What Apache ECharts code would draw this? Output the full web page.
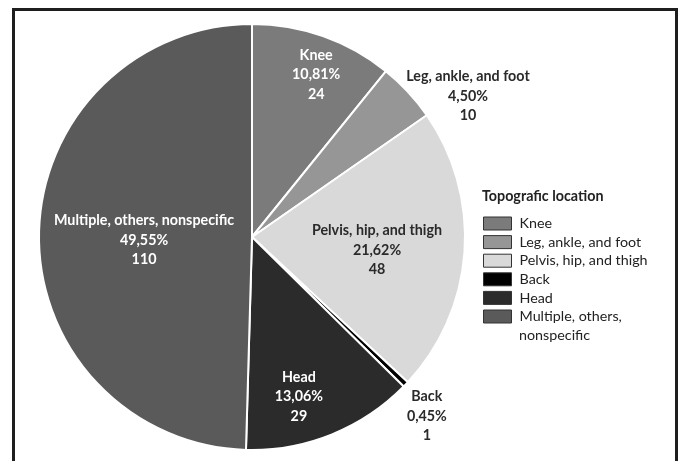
<!DOCTYPE html>
<html>
<head>
<meta charset="utf-8">
<script src="https://cdn.jsdelivr.net/npm/echarts@6/dist/echarts.min.js"></script>
<style>
  html, body { margin: 0; padding: 0; background: #fff; }
  #chart { width: 678px; height: 461px; }
</style>
</head>
<body>
<div id="chart"></div>
<script>
// Injury counts by topographic location
const categories = ['Knee', 'Leg, ankle, and foot', 'Pelvis, hip, and thigh', 'Back', 'Head', 'Multiple, others, nonspecific'];
const counts = [24, 10, 48, 1, 29, 110];
const legendTitle = 'Topografic location';
// the last legend entry wraps onto a second line
const legendWrap = { 'Multiple, others, nonspecific': ['Multiple, others,', 'nonspecific'] };

// Styling
const FONT = 'Lato, "Open Sans", sans-serif';
const FS = 14.3;
const sliceColors = ['#7b7b7b', '#969696', '#d9d9d9', '#000000', '#2b2b2b', '#5a5a5a'];
const labelColors = ['#ffffff', '#2a2a2a', '#2a2a2a', '#2a2a2a', '#ffffff', '#ffffff'];
// label placement: fraction of the radius and small angular nudge (degrees)
const labelRadiusFrac = [0.82, 1.21, 0.59, 1.175, 0.78, 0.507];
const labelAngleNudge = [2.1, 9.9, 1.9, 1.9, 5.5, -2.4];

const CX = 252, CY = 237, R = 213;
const LEG_LEFT = 483, LEG_TOP = 215.5, LEG_ROW = 18.6;

const total = counts.reduce((a, b) => a + b, 0);
const startFrac = [];
counts.reduce((acc, v) => { startFrac.push(acc); return acc + v; }, 0);

const pct = v => (v / total * 100).toFixed(2).replace('.', ',') + '%';

// continuation lines of wrapped legend entries
const wrapGraphics = [];
categories.forEach((c, i) => {
  if (legendWrap[c]) {
    legendWrap[c].slice(1).forEach((line, k) => {
      wrapGraphics.push({
        type: 'text',
        left: LEG_LEFT + 36,
        top: LEG_TOP + (i + 1 + k) * LEG_ROW,
        style: { text: line, font: FS + 'px ' + FONT, fill: '#222222', lineHeight: 16 }
      });
    });
  }
});

const chart = echarts.init(document.getElementById('chart'), null, { renderer: 'canvas' });

chart.setOption({
  backgroundColor: '#ffffff',
  animation: false,
  textStyle: { fontFamily: FONT },
  graphic: [
    {
      type: 'rect',
      shape: { x: 13.5, y: 9.5, width: 663, height: 470 },
      style: { fill: 'none', stroke: '#1e1e1e', lineWidth: 3 },
      z: 100
    },
    {
      type: 'text',
      left: 482,
      top: 189,
      style: { text: legendTitle, font: 'bold ' + FS + 'px ' + FONT, fill: '#222222' }
    }
  ].concat(wrapGraphics),
  legend: {
    orient: 'vertical',
    left: LEG_LEFT,
    top: LEG_TOP,
    padding: 0,
    itemWidth: 28,
    itemHeight: 13,
    itemGap: LEG_ROW - 16,
    icon: 'rect',
    selectedMode: false,
    data: categories,
    itemStyle: { borderColor: '#333333', borderWidth: 1 },
    formatter: name => legendWrap[name] ? legendWrap[name][0] : name,
    textStyle: { fontFamily: FONT, fontSize: FS, color: '#222222', lineHeight: 16, padding: [0, 0, 0, 3] }
  },
  series: [{
    type: 'pie',
    center: [CX, CY],
    radius: R,
    startAngle: 90,
    clockwise: true,
    avoidLabelOverlap: false,
    data: categories.map((c, i) => ({
      name: c,
      value: counts[i],
      itemStyle: { color: sliceColors[i] },
      label: { color: labelColors[i] }
    })),
    itemStyle: { borderColor: '#ffffff', borderWidth: 2 },
    emphasis: { disabled: true },
    labelLine: { show: false },
    label: {
      show: true,
      position: 'inside',
      fontFamily: FONT,
      fontWeight: 'bold',
      fontSize: FS,
      lineHeight: 19.5,
      align: 'center',
      formatter: p => p.name + '\n' + pct(p.value) + '\n' + p.value
    },
    labelLayout: params => {
      const i = params.dataIndex;
      const mid = (startFrac[i] + counts[i] / 2) / total * 360 + labelAngleNudge[i];
      const a = mid * Math.PI / 180;
      const d = labelRadiusFrac[i] * R;
      return {
        x: CX + d * Math.sin(a),
        y: CY - d * Math.cos(a),
        align: 'center',
        verticalAlign: 'middle'
      };
    }
  }]
});
</script>
</body>
</html>
